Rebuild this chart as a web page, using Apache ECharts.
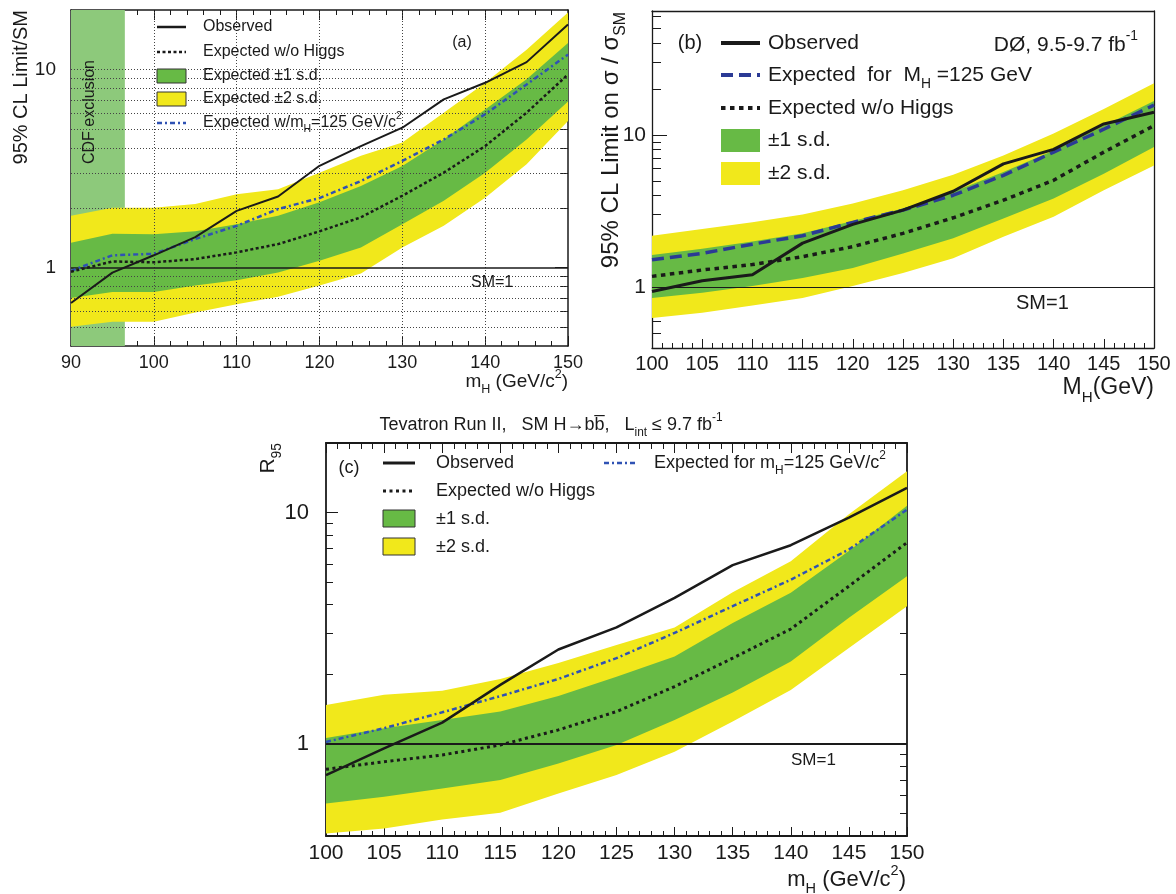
<!DOCTYPE html>
<html><head><meta charset="utf-8">
<script src="https://cdn.jsdelivr.net/npm/echarts@6/dist/echarts.min.js"></script>
<style>html,body{margin:0;padding:0;background:#fff}#c{width:1176px;height:894px}</style>
</head><body><div id="c"></div>
<script>
// ---------------- DATA ----------------
// Panel (a) CDF
const massA   = [90, 95, 100, 105, 110, 115, 120, 125, 130, 135, 140, 145, 150];
const obsA    = [0.66, 0.94, 1.15, 1.42, 1.93, 2.28, 3.26, 4.1, 5.08, 7.06, 8.57, 10.9, 16.9];
const expA    = [0.95, 1.07, 1.06, 1.10, 1.19, 1.31, 1.52, 1.79, 2.30, 3.01, 4.1, 6.05, 9.44];
const exp125A = [0.96, 1.15, 1.17, 1.39, 1.62, 1.97, 2.24, 2.73, 3.45, 4.43, 5.94, 8.4, 11.9];
const s1loA   = [0.70, 0.75, 0.75, 0.81, 0.86, 0.94, 1.08, 1.26, 1.65, 2.17, 3.01, 4.43, 6.9];
const s1hiA   = [1.33, 1.48, 1.47, 1.52, 1.65, 1.82, 2.13, 2.58, 3.25, 4.43, 6.28, 8.92, 13.6];
const s2loA   = [0.50, 0.53, 0.53, 0.59, 0.65, 0.71, 0.81, 0.93, 1.26, 1.62, 2.25, 3.32, 5.5];
const s2hiA   = [1.82, 2.0, 2.0, 2.09, 2.34, 2.48, 3.01, 3.66, 4.27, 6.05, 8.57, 12.6, 19.4];
const cdfExclusionA = [90, 96.5];
// Panel (b) D0
const massB   = [100, 105, 110, 115, 120, 125, 130, 135, 140, 145, 150];
const obsB    = [0.94, 1.105, 1.21, 1.95, 2.59, 3.21, 4.27, 6.46, 8.04, 11.8, 14.1];
const exp125B = [1.515, 1.67, 1.92, 2.18, 2.67, 3.21, 4.02, 5.43, 7.71, 10.9, 15.7];
const expB    = [1.18, 1.30, 1.41, 1.59, 1.85, 2.26, 2.86, 3.73, 5.04, 7.71, 11.5];
const s1loB   = [0.85, 0.92, 1.02, 1.15, 1.34, 1.67, 2.10, 2.83, 3.82, 5.56, 8.32];
const s1hiB   = [1.63, 1.79, 2.0, 2.26, 2.72, 3.29, 4.23, 5.71, 7.9, 11.5, 16.7];
const s2loB   = [0.63, 0.68, 0.76, 0.85, 1.02, 1.24, 1.55, 2.15, 2.90, 4.33, 6.31];
const s2hiB   = [2.18, 2.41, 2.67, 3.01, 3.55, 4.33, 5.48, 7.33, 10.2, 14.8, 21.8];
// Panel (c) Tevatron combination
const massC   = [100, 105, 110, 115, 120, 125, 130, 135, 140, 145, 150];
const obsC    = [0.734, 0.957, 1.237, 1.80, 2.56, 3.19, 4.28, 5.93, 7.23, 9.52, 12.8];
const expC    = [0.777, 0.838, 0.896, 0.99, 1.15, 1.38, 1.77, 2.35, 3.14, 4.81, 7.42];
const exp125C = [1.02, 1.17, 1.37, 1.61, 1.91, 2.35, 3.02, 3.94, 5.13, 6.93, 10.3];
const s1loC   = [0.553, 0.591, 0.642, 0.698, 0.824, 0.99, 1.27, 1.67, 2.27, 3.51, 5.31];
const s1hiC   = [1.06, 1.17, 1.27, 1.38, 1.61, 1.95, 2.39, 3.33, 4.50, 6.82, 10.7];
const s2loC   = [0.41, 0.431, 0.471, 0.504, 0.611, 0.734, 0.926, 1.25, 1.71, 2.60, 3.94];
const s2hiC   = [1.475, 1.63, 1.70, 1.91, 2.24, 2.68, 3.19, 4.53, 6.17, 9.84, 15.1];
// Tick / grid values
const majorY   = [1, 10];
const minorYAC = [0.5, 0.6, 0.7, 0.8, 0.9, 2, 3, 4, 5, 6, 7, 8, 9];
const minorYB  = [0.5, 0.6, 0.7, 0.8, 0.9, 2, 3, 4, 5, 6, 7, 8, 9, 20, 30, 40, 50, 60];
const gridYA   = [0.5, 0.6, 0.7, 0.8, 0.9, 2, 3, 4, 5, 6, 7, 8, 9, 10];
const gridXA   = [100, 110, 120, 130, 140];
const smLevel  = 1;

// ---------------- STYLE ----------------
const FONT = "'Liberation Sans', Arial, Helvetica, sans-serif";
const GREEN = '#67ba45', YELLOW = '#f1e81b', CDFG = '#8dc97b', BLUE = '#2f52b4', NAVY = '#2b3a95', INK = '#1a1a1a';

const zip = (xs, ys) => xs.map((x, i) => [x, ys[i]]);

function band(xi, yi, xs, lo, hi, color, z) {
  return {
    type: 'custom', xAxisIndex: xi, yAxisIndex: yi, z: z, clip: true, silent: true,
    data: xs.map((x, i) => [x, lo[i], hi[i]]),
    encode: { x: 0, y: [1, 2] },
    renderItem: function (params, api) {
      if (params.dataIndex !== 0) return null;
      const pts = [];
      for (let i = 0; i < xs.length; i++) pts.push(api.coord([xs[i], hi[i]]));
      for (let i = xs.length - 1; i >= 0; i--) pts.push(api.coord([xs[i], lo[i]]));
      return { type: 'polygon', shape: { points: pts }, style: { fill: color, stroke: null } };
    }
  };
}
function curve(xi, yi, xs, ys, color, width, type, z) {
  return {
    type: 'line', xAxisIndex: xi, yAxisIndex: yi, z: z, data: zip(xs, ys), symbol: 'none',
    silent: true, clip: true, animation: false,
    lineStyle: { color: color, width: width, type: type }
  };
}
function smLine(xi, yi, width) {
  return {
    type: 'line', xAxisIndex: xi, yAxisIndex: yi, z: 6, data: [], silent: true,
    markLine: { silent: true, symbol: ['none', 'none'], label: { show: false }, animation: false,
      lineStyle: { color: INK, width: width, type: 'solid' }, data: [{ yAxis: smLevel }] }
  };
}

function xAx(grid, min, max, interval, pos, showLabel, lineW, tickLen, minorLen, fs, margin, showTicks) {
  return {
    type: 'value', gridIndex: grid, position: pos, min: min, max: max, interval: interval,
    axisLine: { show: true, onZero: false, lineStyle: { color: INK, width: lineW } },
    axisTick: { show: showTicks, inside: true, length: tickLen, lineStyle: { color: INK, width: 1 } },
    minorTick: { show: showTicks, splitNumber: 5, length: minorLen, lineStyle: { color: INK, width: 1 } },
    axisLabel: { show: showLabel, fontSize: fs, fontFamily: FONT, color: INK, margin: margin },
    splitLine: { show: false }, minorSplitLine: { show: false }
  };
}
function yAx(grid, min, max, pos, ticks, tickLen, showLabel, showLine, lineW, fs, margin) {
  const ax = {
    type: 'log', logBase: 10, gridIndex: grid, position: pos, min: min, max: max,
    axisLine: { show: showLine, onZero: false, lineStyle: { color: INK, width: lineW } },
    axisTick: { show: ticks.length > 0, inside: true, length: tickLen, lineStyle: { color: INK, width: 1 } },
    axisLabel: { show: showLabel, fontSize: fs, fontFamily: FONT, color: INK, margin: margin,
      formatter: v => String(Math.round(v)) },
    splitLine: { show: false }
  };
  if (ticks.length) ax.axisTick.customValues = ticks;
  if (showLabel) ax.axisLabel.customValues = majorY;
  return ax;
}

const grids = [
  { left: 71, top: 10, width: 497, height: 336 },
  { left: 652, top: 11, width: 502, height: 337 },
  { left: 326, top: 443, width: 581, height: 393 }
];

const xAxis = [
  xAx(0, 90, 150, 10, 'bottom', true, 1.5, 10, 5, 18, 8, true),
  xAx(0, 90, 150, 10, 'top', false, 1.5, 10, 5, 18, 8, true),
  xAx(1, 100, 150, 5, 'bottom', true, 1.3, 9, 5, 20, 6, true),
  xAx(1, 100, 150, 5, 'top', false, 1.3, 9, 5, 20, 6, false),
  xAx(2, 100, 150, 5, 'bottom', true, 1.8, 9, 5, 21, 7, true),
  xAx(2, 100, 150, 5, 'top', false, 1.8, 10, 6, 21, 7, true)
];
const yAxis = [
  yAx(0, 0.4, 20, 'left', majorY, 13, true, true, 1.5, 19, 15),   // 0
  yAx(0, 0.4, 20, 'left', minorYAC, 8, false, false, 1.5, 18, 15),// 1
  yAx(0, 0.4, 20, 'right', majorY, 13, false, true, 1.5, 18, 15), // 2
  yAx(0, 0.4, 20, 'right', minorYAC, 8, false, false, 1.5, 18, 15),// 3
  yAx(1, 0.4, 65, 'left', majorY, 15, true, true, 1.3, 21, 6),     // 4
  yAx(1, 0.4, 65, 'left', minorYB, 9, false, false, 1.3, 20, 6),   // 5
  yAx(1, 0.4, 65, 'right', [], 0, false, true, 1.3, 20, 6),        // 6
  yAx(2, 0.4, 20, 'left', majorY, 12, true, true, 1.8, 22, 17),    // 7
  yAx(2, 0.4, 20, 'left', minorYAC, 7, false, false, 1.8, 21, 17), // 8
  yAx(2, 0.4, 20, 'right', majorY, 12, false, true, 1.8, 21, 17),  // 9
  yAx(2, 0.4, 20, 'right', minorYAC, 7, false, false, 1.8, 21, 17) // 10
];

const series = [
  // ---- (a)
  { type: 'line', xAxisIndex: 0, yAxisIndex: 0, z: 1, data: [], silent: true,
    markArea: { silent: true, itemStyle: { color: CDFG }, label: { show: false },
      data: [[{ xAxis: cdfExclusionA[0], yAxis: 0.4 }, { xAxis: cdfExclusionA[1], yAxis: 20 }]] } },
  band(0, 0, massA, s2loA, s2hiA, YELLOW, 2),
  band(0, 0, massA, s1loA, s1hiA, GREEN, 3),
  { type: 'line', xAxisIndex: 0, yAxisIndex: 0, z: 4, data: [], silent: true,
    markLine: { silent: true, symbol: ['none', 'none'], label: { show: false }, animation: false,
      lineStyle: { color: '#444', width: 1, type: [1, 2] },
      data: gridYA.map(v => ({ yAxis: v })).concat(gridXA.map(v => ({ xAxis: v }))) } },
  smLine(0, 0, 1.5),
  curve(0, 0, massA, exp125A, BLUE, 2.5, [5, 3, 2, 3], 5),
  curve(0, 0, massA, expA, INK, 2.5, [3, 2.5], 5),
  curve(0, 0, massA, obsA, INK, 2, 'solid', 6),
  // ---- (b)
  band(2, 4, massB, s2loB, s2hiB, YELLOW, 2),
  band(2, 4, massB, s1loB, s1hiB, GREEN, 3),
  smLine(2, 4, 1),
  curve(2, 4, massB, expB, INK, 3.5, [4.5, 4.5], 5),
  curve(2, 4, massB, exp125B, NAVY, 3.5, [12, 6], 5),
  curve(2, 4, massB, obsB, INK, 3, 'solid', 6),
  // ---- (c)
  band(4, 7, massC, s2loC, s2hiC, YELLOW, 2),
  band(4, 7, massC, s1loC, s1hiC, GREEN, 3),
  smLine(4, 7, 2),
  curve(4, 7, massC, exp125C, BLUE, 2.5, [5, 3, 2, 3], 5),
  curve(4, 7, massC, expC, INK, 3, [3, 3.5], 5),
  curve(4, 7, massC, obsC, INK, 2.5, 'solid', 6)
];

// ---------------- TEXT / LEGENDS (graphic) ----------------
function richStyles(fs) {
  return {
    n: { fontSize: fs, fontFamily: FONT, fill: INK, lineHeight: fs * 1.5 },
    sub: { fontSize: fs * 0.66, fontFamily: FONT, fill: INK, verticalAlign: 'bottom', lineHeight: fs * 0.66 },
    sup: { fontSize: fs * 0.66, fontFamily: FONT, fill: INK, verticalAlign: 'top', lineHeight: fs * 0.66 }
  };
}
function T(x, y, text, fs, align, rot) {
  return {
    type: 'text', x: x, y: y, rotation: rot || 0, z: 100, silent: true,
    style: { text: text, rich: richStyles(fs), font: fs + 'px ' + FONT, fill: INK,
      align: align || 'left', textAlign: align || 'left', verticalAlign: 'middle', textVerticalAlign: 'middle' }
  };
}
function L(x1, y1, x2, y2, color, w, dash) {
  return { type: 'line', z: 100, silent: true, shape: { x1: x1, y1: y1, x2: x2, y2: y2 },
    style: { stroke: color, lineWidth: w, lineDash: dash || null } };
}
function B(x, y, w, h, fill, stroke) {
  return { type: 'rect', z: 100, silent: true, shape: { x: x, y: y, width: w, height: h },
    style: { fill: fill, stroke: stroke || null, lineWidth: stroke ? 1 : 0 } };
}

const graphics = [
  // ---- (a)
  T(21, 10, '{n|95% CL Limit/SM}', 20, 'right', Math.PI / 2),
  T(90, 60, '{n|CDF exclusion}', 16, 'right', Math.PI / 2),
  T(568, 382, '{n|m}{sub|H}{n| (GeV/c}{sup|2}{n|)}', 19, 'right'),
  T(462, 43, '{n|(a)}', 16, 'center'),
  T(471, 283, '{n|SM=1}', 16, 'left'),
  L(157, 27, 186, 27, INK, 2.5),
  T(203, 27, '{n|Observed}', 16),
  L(157, 52, 186, 52, INK, 2.5, [3, 2.5]),
  T(203, 52, '{n|Expected w/o Higgs}', 16),
  B(157, 69, 29, 14, GREEN, '#333'),
  T(203, 76, '{n|Expected ±1 s.d.}', 16),
  B(157, 92, 29, 14, YELLOW, '#333'),
  T(203, 99, '{n|Expected ±2 s.d.}', 16),
  L(157, 123, 186, 123, BLUE, 2.5, [5, 3, 2, 3]),
  T(203, 123, '{n|Expected w/m}{sub|H}{n|=125 GeV/c}{sup|2}', 16),
  // ---- (b)
  T(611, 12, '{n|95% CL Limit on σ / σ}{sub|SM}', 24, 'right', Math.PI / 2),
  T(1154, 388, '{n|M}{sub|H}{n|(GeV)}', 23, 'right'),
  T(690, 43, '{n|(b)}', 20, 'center'),
  T(1138, 45, '{n|DØ, 9.5-9.7 fb}{sup|-1}', 21, 'right'),
  T(1016, 303, '{n|SM=1}', 20, 'left'),
  L(721, 43, 760, 43, INK, 4),
  T(768, 43, '{n|Observed}', 21),
  L(721, 75, 760, 75, NAVY, 4, [12, 6]),
  T(768, 75, '{n|Expected  for  M}{sub|H}{n| =125 GeV}', 21),
  L(721, 108, 760, 108, INK, 4, [4.5, 4.5]),
  T(768, 108, '{n|Expected w/o Higgs}', 21),
  B(721, 129, 39, 23, GREEN),
  T(768, 140, '{n|±1 s.d.}', 21),
  B(721, 162, 39, 23, YELLOW),
  T(768, 173, '{n|±2 s.d.}', 21),
  // ---- (c)
  T(551, 425, '{n|Tevatron Run II,   SM H→bb\u0305,   L}{sub|int}{n| ≤ 9.7 fb}{sup|-1}', 18, 'center'),
  T(268, 443, '{n|R}{sub|95}', 21, 'right', Math.PI / 2),
  T(906, 880, '{n|m}{sub|H}{n| (GeV/c}{sup|2}{n|)}', 22, 'right'),
  T(349, 468, '{n|(c)}', 18, 'center'),
  T(791, 760, '{n|SM=1}', 17, 'left'),
  L(383, 463, 415, 463, INK, 3),
  T(436, 463, '{n|Observed}', 18),
  L(383, 491, 415, 491, INK, 3, [3, 3.5]),
  T(436, 491, '{n|Expected w/o Higgs}', 18),
  B(383, 510, 32, 17, GREEN, '#333'),
  T(436, 519, '{n|±1 s.d.}', 18),
  B(383, 538, 32, 17, YELLOW, '#333'),
  T(436, 547, '{n|±2 s.d.}', 18),
  L(604, 463, 635, 463, BLUE, 2.5, [5, 3, 2, 3]),
  T(654, 463, '{n|Expected for m}{sub|H}{n|=125 GeV/c}{sup|2}', 18)
];

const chart = echarts.init(document.getElementById('c'), null, { renderer: 'canvas' });
chart.setOption({
  animation: false,
  backgroundColor: '#ffffff',
  textStyle: { fontFamily: FONT },
  grid: grids,
  xAxis: xAxis,
  yAxis: yAxis,
  series: series,
  graphic: { elements: graphics }
});
</script></body></html>
